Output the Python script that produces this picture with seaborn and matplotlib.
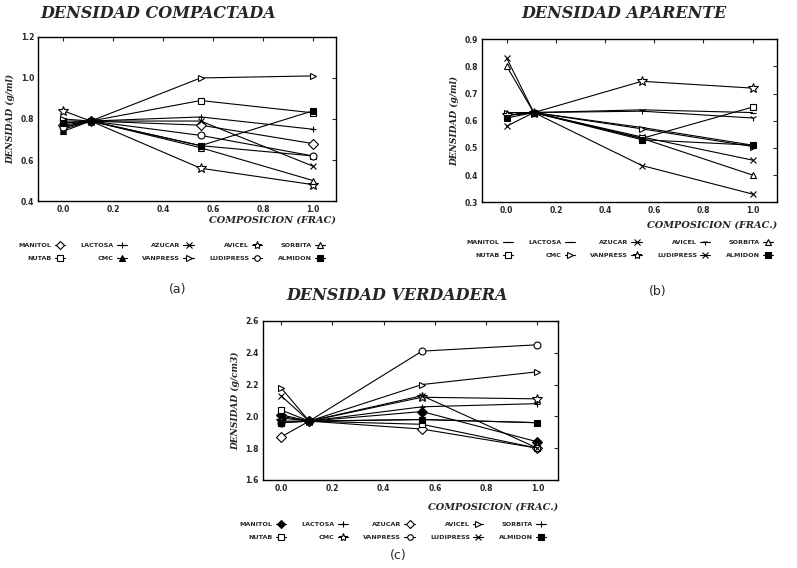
import matplotlib
matplotlib.use("Agg")
import matplotlib.pyplot as plt
import seaborn as sns
import pandas as pd
from matplotlib.lines import Line2D

sns.set_style("white")
plt.rcParams['font.family'] = ['DejaVu Sans']

x_comp = [0.0, 0.11, 0.55, 1.0]
series_names = ["MANITOL", "LACTOSA", "AZUCAR", "AVICEL", "SORBITA",
                "NUTAB", "CMC", "VANPRESS", "LUDIPRESS", "ALMIDON"]

# (a) Densidad compactada
comp_manitol = [0.77, 0.79, 0.77, 0.68]
comp_lactosa = [0.78, 0.79, 0.81, 0.75]
comp_azucar = [0.76, 0.79, 0.79, 0.57]
comp_avicel = [0.84, 0.79, 0.56, 0.48]
comp_sorbita = [0.75, 0.79, 0.66, 0.50]
comp_nutab = [0.79, 0.79, 0.89, 0.83]
comp_cmc = [0.74, 0.79, 0.67, 0.62]
comp_vanpress = [0.80, 0.79, 1.00, 1.01]
comp_ludipress = [0.76, 0.79, 0.72, 0.62]
comp_almidon = [0.78, 0.79, 0.67, 0.84]

# (b) Densidad aparente
apar_manitol = [0.62, 0.63, 0.575, 0.51]
apar_lactosa = [0.63, 0.63, 0.64, 0.63]
apar_azucar = [0.58, 0.63, 0.54, 0.455]
apar_avicel = [0.62, 0.63, 0.635, 0.61]
apar_sorbita = [0.80, 0.63, 0.535, 0.40]
apar_nutab = [0.62, 0.63, 0.535, 0.65]
apar_cmc = [0.63, 0.63, 0.57, 0.505]
apar_vanpress = [0.62, 0.63, 0.745, 0.72]
apar_ludipress = [0.83, 0.63, 0.435, 0.33]
apar_almidon = [0.61, 0.63, 0.53, 0.51]

# (c) Densidad verdadera
verd_manitol = [2.01, 1.97, 2.03, 1.84]
verd_lactosa = [2.00, 1.97, 2.06, 2.08]
verd_azucar = [1.87, 1.97, 1.92, 1.80]
verd_avicel = [2.18, 1.97, 2.20, 2.28]
verd_sorbita = [1.99, 1.97, 1.98, 1.96]
verd_nutab = [2.04, 1.97, 1.95, 1.80]
verd_cmc = [1.97, 1.97, 2.12, 2.11]
verd_vanpress = [1.96, 1.97, 2.41, 2.45]
verd_ludipress = [2.13, 1.97, 2.13, 1.80]
verd_almidon = [1.96, 1.97, 1.98, 1.96]

comp_vals = [comp_manitol, comp_lactosa, comp_azucar, comp_avicel, comp_sorbita,
             comp_nutab, comp_cmc, comp_vanpress, comp_ludipress, comp_almidon]
apar_vals = [apar_manitol, apar_lactosa, apar_azucar, apar_avicel, apar_sorbita,
             apar_nutab, apar_cmc, apar_vanpress, apar_ludipress, apar_almidon]
verd_vals = [verd_manitol, verd_lactosa, verd_azucar, verd_avicel, verd_sorbita,
             verd_nutab, verd_cmc, verd_vanpress, verd_ludipress, verd_almidon]

# marker styles per panel: (marker, filled)
markers_a = [("D", False), ("+", True), ("x", True), ("*", False), ("^", False),
             ("s", False), ("^", True), (">", False), ("o", False), ("s", True)]
markers_b = [("_", True), ("_", True), ("x", True), ("1", True), ("^", False),
             ("s", False), (">", False), ("*", False), ("x", True), ("s", True)]
markers_c = [("D", True), ("+", True), ("D", False), (">", False), ("+", True),
             ("s", False), ("*", False), ("o", False), ("x", True), ("s", True)]

fig = plt.figure(figsize=(7.97, 5.68), dpi=100)

panels = [
    dict(rect=[0.048, 0.646, 0.373, 0.289], vals=comp_vals, mk=markers_a,
         ylim=(0.4, 1.2), yticks=[0.4, 0.6, 0.8, 1.0, 1.2], xlim=(-0.1, 1.09),
         title="DENSIDAD COMPACTADA", ylabel="DENSIDAD (g/ml)",
         xlabel="COMPOSICION (FRAC)", tag="(a)", xl_off=-0.09,
         title_xy=(158, 13), tag_xy=(178, 290), leg_xy=(172, 252)),
    dict(rect=[0.605, 0.644, 0.370, 0.287], vals=apar_vals, mk=markers_b,
         ylim=(0.3, 0.9), yticks=[0.3, 0.4, 0.5, 0.6, 0.7, 0.8, 0.9], xlim=(-0.1, 1.10),
         title="DENSIDAD APARENTE", ylabel="DENSIDAD (g/ml)",
         xlabel="COMPOSICION (FRAC.)", tag="(b)", xl_off=-0.11,
         title_xy=(624, 13), tag_xy=(658, 292), leg_xy=(620, 249)),
    dict(rect=[0.330, 0.155, 0.370, 0.280], vals=verd_vals, mk=markers_c,
         ylim=(1.6, 2.6), yticks=[1.6, 1.8, 2.0, 2.2, 2.4, 2.6], xlim=(-0.07, 1.08),
         title="DENSIDAD VERDADERA", ylabel="DENSIDAD (g/cm3)",
         xlabel="COMPOSICION (FRAC.)", tag="(c)", xl_off=-0.14,
         title_xy=(397, 296), tag_xy=(398, 556), leg_xy=(393, 531)),
]

W, H = 797, 568
title_font = dict(family="DejaVu Serif", weight="heavy", style="italic", size=11.5)

for p in panels:
    ax = fig.add_axes(p["rect"])
    handles = []
    for name, vals, (mk, filled) in zip(series_names, p["vals"], p["mk"]):
        df = pd.DataFrame({"x": x_comp, "y": vals})
        face = "black" if filled else "white"
        ms = 7 if mk == "*" else 5
        sns.lineplot(data=df, x="x", y="y", ax=ax, color="black", lw=0.8,
                     marker=mk, markersize=ms, markerfacecolor=face,
                     markeredgecolor="black", markeredgewidth=0.8, zorder=3)
        handles.append(Line2D([0], [0], color="black", lw=0.8, marker=mk,
                              markersize=ms - 1, markerfacecolor=face,
                              markeredgecolor="black", markeredgewidth=0.8,
                              label=name))
    ax.set_xlim(*p["xlim"])
    ax.set_ylim(*p["ylim"])
    ax.set_xticks([0.0, 0.2, 0.4, 0.6, 0.8, 1.0])
    ax.set_xticklabels(["0.0", "0.2", "0.4", "0.6", "0.8", "1.0"],
                       fontsize=5.5, fontweight="bold")
    ax.set_yticks(p["yticks"])
    ax.set_yticklabels([f"{v:.1f}" for v in p["yticks"]], fontsize=5.5,
                       fontweight="bold")
    ax.tick_params(direction="in", length=3, width=0.8, top=True, right=True,
                   pad=3)
    for s in ax.spines.values():
        s.set_linewidth(1.0)
        s.set_color("black")
    ax.set_xlabel("")
    ax.set_ylabel(p["ylabel"], fontsize=6.5, fontweight="bold",
                  style="italic", family="DejaVu Serif")
    ax.text(1.0, p["xl_off"], p["xlabel"], transform=ax.transAxes, ha="right",
            va="top", fontsize=7, fontweight="bold", style="italic",
            family="DejaVu Serif")
    fig.text(p["title_xy"][0] / W, 1 - p["title_xy"][1] / H, p["title"],
             ha="center", va="center", **title_font)
    fig.text(p["tag_xy"][0] / W, 1 - p["tag_xy"][1] / H, p["tag"],
             ha="center", va="center", fontsize=9)
    # legend ordering: column-wise fill -> interleave rows
    order = [0, 5, 1, 6, 2, 7, 3, 8, 4, 9]
    fig.legend([handles[i] for i in order],
               [series_names[i] for i in order],
               loc="center", ncol=5, markerfirst=False, frameon=False,
               bbox_to_anchor=(p["leg_xy"][0] / W, 1 - p["leg_xy"][1] / H),
               prop=dict(size=4.6, weight="bold"), handlelength=1.6,
               columnspacing=2.4, labelspacing=1.2, handletextpad=0.5)

fig.savefig("out.png", dpi=100)
